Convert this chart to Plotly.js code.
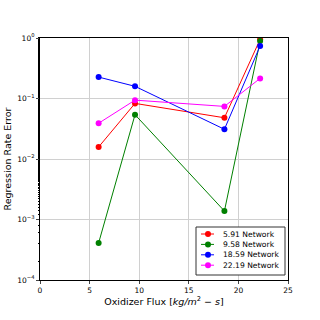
<!DOCTYPE html>
<html><head><meta charset="utf-8">
<script src="https://cdn.plot.ly/plotly-3.0.1.min.js"></script>
<style>html,body{margin:0;padding:0;background:#fff}#c{width:320px;height:320px}</style>
</head><body><div id="c"></div>
<script>
const flux = [5.91, 9.58, 18.59, 22.19];
const names = ["5.91 Network", "9.58 Network", "18.59 Network", "22.19 Network"];
const colors = ["red", "green", "blue", "magenta"];
const err591 = [0.0158, 0.083, 0.048, 0.95];
const err958 = [0.00041, 0.054, 0.00138, 0.89];
const err1859 = [0.226, 0.159, 0.031, 0.74];
const err2219 = [0.039, 0.094, 0.074, 0.215];
const series = [err591, err958, err1859, err2219];
const yTickVals = [1e-4, 1e-3, 1e-2, 1e-1, 1];
const yTickText = ["10<sup>−4</sup>", "10<sup>−3</sup>", "10<sup>−2</sup>", "10<sup>−1</sup>", "10<sup>0</sup>"];

const traces = series.map((ys, i) => ({
  x: flux, y: ys, name: names[i], type: 'scatter', mode: 'lines+markers',
  line: {color: colors[i], width: 1},
  marker: {color: colors[i], size: 6}
}));

// plot area geometry (pixels) for placing the custom legend
const M = {l: 40, r: 32, t: 38, b: 40};
const PW = 320 - M.l - M.r, PH = 320 - M.t - M.b;
const px = x => (x - M.l) / PW;
const py = y => (320 - M.b - y) / PH;

const shapes = [{type: 'rect', xref: 'paper', yref: 'paper',
  x0: px(196), x1: px(285), y0: py(275), y1: py(227),
  line: {color: '#333', width: 1}, fillcolor: '#fff', layer: 'above'}];
const annotations = [];
names.forEach((n, i) => {
  const yy = 234 + i * 10.4;
  shapes.push({type: 'line', xref: 'paper', yref: 'paper', x0: px(201), x1: px(214), y0: py(yy), y1: py(yy),
    line: {color: colors[i], width: 1}, layer: 'above'});
  shapes.push({type: 'circle', xref: 'paper', yref: 'paper', x0: px(205), x1: px(211), y0: py(yy + 3), y1: py(yy - 3),
    line: {color: colors[i], width: 0}, fillcolor: colors[i], layer: 'above'});
  annotations.push({xref: 'paper', yref: 'paper', x: px(221), y: py(yy), xanchor: 'left', yanchor: 'middle',
    text: n, showarrow: false, font: {family: 'DejaVu Sans', size: 7.6, color: '#000'}});
});

const layout = {
  width: 320, height: 320,
  margin: M,
  paper_bgcolor: '#fff', plot_bgcolor: '#fff',
  font: {family: 'DejaVu Sans', size: 7.5, color: '#000'},
  showlegend: false,
  shapes: shapes, annotations: annotations,
  xaxis: {range: [0, 25], tickvals: [0, 5, 10, 15, 20, 25], ticks: 'outside', ticklen: 3,
    showline: true, linecolor: '#000', linewidth: 1, mirror: true,
    showgrid: true, gridcolor: '#d0d0d0', gridwidth: 1, zeroline: false,
    title: {text: 'Oxidizer Flux [<i>kg/m</i><sup>2</sup> − <i>s</i>]', font: {family: 'DejaVu Sans', size: 9.5}, standoff: 3}},
  yaxis: {type: 'log', range: [-4, 0], tickmode: 'array', tickvals: yTickVals, ticktext: yTickText,
    ticks: 'outside', ticklen: 3,
    minor: {ticks: 'outside', ticklen: 1.5, tickcolor: '#000', showgrid: false},
    showline: true, linecolor: '#000', linewidth: 1, mirror: true,
    showgrid: true, gridcolor: '#d0d0d0', gridwidth: 1, zeroline: false,
    title: {text: 'Regression Rate Error', font: {family: 'DejaVu Sans', size: 9.5}, standoff: 3}}
};
Plotly.newPlot('c', traces, layout, {staticPlot: true});
</script></body></html>
